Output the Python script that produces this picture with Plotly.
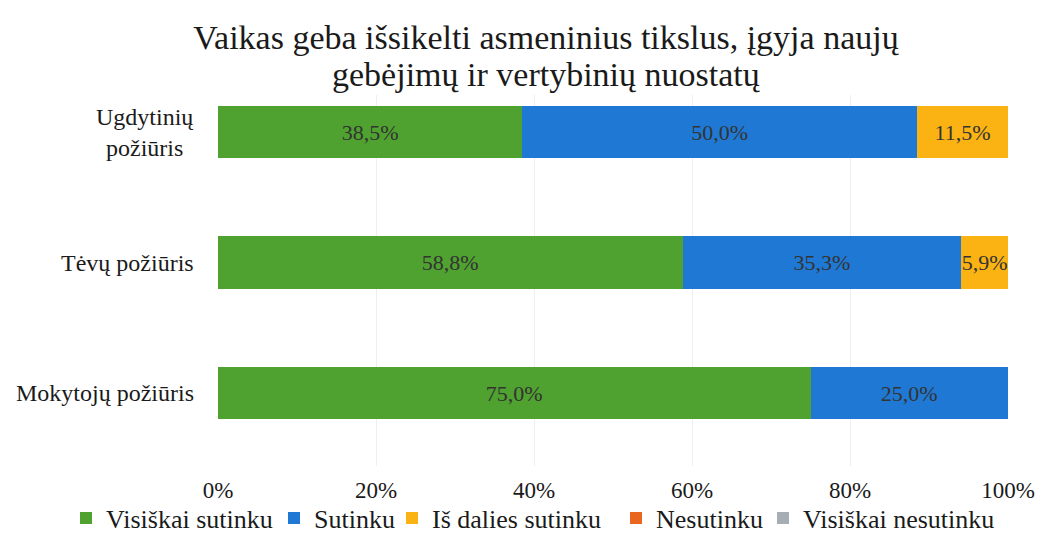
import plotly.graph_objects as go

categories = ["Ugdytinių<br>požiūris", "Tėvų požiūris", "Mokytojų požiūris"]
series_names = ["Visiškai sutinku", "Sutinku", "Iš dalies sutinku", "Nesutinku", "Visiškai nesutinku"]
visiskai_sutinku = [38.5, 58.8, 75.0]
sutinku = [50.0, 35.3, 25.0]
is_dalies = [11.5, 5.9, 0.0]
nesutinku = [0.0, 0.0, 0.0]
visiskai_nesutinku = [0.0, 0.0, 0.0]
colors = ["#4fa22f", "#1f79d4", "#fbb314", "#e8661f", "#a6adb4"]
tick_vals = [0, 20, 40, 60, 80, 100]
tick_text = ["0%", "20%", "40%", "60%", "80%", "100%"]
title_lines = ["Vaikas geba išsikelti asmeninius tikslus, įgyja naujų",
               "gebėjimų ir vertybinių nuostatų"]

SERIF = "Liberation Serif"
OFF = 8  # page offset of the figure inside the browser window
W, H = 1063, 546
L, R, T, B = 210, 63, 87, 88
PH = H - T - B

def fmt(v):
    return ("%.1f%%" % v).replace(".", ",") if v > 0 else ""

# legend text start x (screen px) for each entry, as in the reference
legend_text_x = [108, 316, 434, 658, 805]
legend_names = ["legend", "legend2", "legend3", "legend4", "legend5"]

fig = go.Figure()
for name, vals, col, lg in zip(series_names,
                               [visiskai_sutinku, sutinku, is_dalies, nesutinku, visiskai_nesutinku],
                               colors, legend_names):
    fig.add_trace(go.Bar(
        y=categories, x=vals, name=name, orientation="h", legend=lg, showlegend=True,
        marker=dict(color=col, line=dict(width=0)),
        text=[fmt(v) for v in vals], textposition="inside", textangle=0,
        insidetextanchor="middle", constraintext="none",
        textfont=dict(family=SERIF, size=22, color="#333333"),
        width=0.4,
    ))

for c in categories:
    fig.add_annotation(x=0, xref="paper", y=c, yref="y", text=c, showarrow=False,
                       xanchor="right", align="center", xshift=-22,
                       font=dict(family=SERIF, size=24, color="#1a1a1a"))

# second title line
fig.add_annotation(x=(546 - OFF - L) / (W - L - R), xref="paper",
                   y=(H - B - (75 - OFF)) / PH, yref="paper",
                   text=title_lines[1], showarrow=False, xanchor="center", yanchor="middle",
                   font=dict(family=SERIF, size=34, color="#1a1a1a"))

legend_layouts = {}
for lg, tx in zip(legend_names, legend_text_x):
    legend_layouts[lg] = dict(orientation="h", xref="container", yref="container",
                              x=(tx - OFF - 42) / W, xanchor="left",
                              y=1 - (518 - OFF) / H, yanchor="middle",
                              font=dict(family=SERIF, size=26, color="#1a1a1a"),
                              itemwidth=30, bgcolor="rgba(0,0,0,0)", visible=True)

fig.update_layout(
    barmode="stack",
    showlegend=True,
    width=W, height=H,
    paper_bgcolor="white", plot_bgcolor="white",
    margin=dict(l=L, r=R, t=T, b=B),
    title=dict(text=title_lines[0],
               x=(546 - OFF) / W, xanchor="center", xref="container",
               y=1 - (37 - OFF) / H, yanchor="middle",
               font=dict(family=SERIF, size=34, color="#1a1a1a")),
    xaxis=dict(range=[0, 100], tickvals=tick_vals, ticktext=tick_text,
               showgrid=True, gridcolor="#efefef", gridwidth=1, zeroline=False,
               showline=False, ticks="", automargin=False, ticklabelstandoff=8,
               tickfont=dict(family=SERIF, size=23, color="#1a1a1a")),
    yaxis=dict(type="category", categoryorder="array", categoryarray=categories,
               range=[2.559, -0.2835], showticklabels=False, showgrid=False,
               zeroline=False, showline=False, automargin=False),
    **legend_layouts,
)

fig.write_html("out.html")
